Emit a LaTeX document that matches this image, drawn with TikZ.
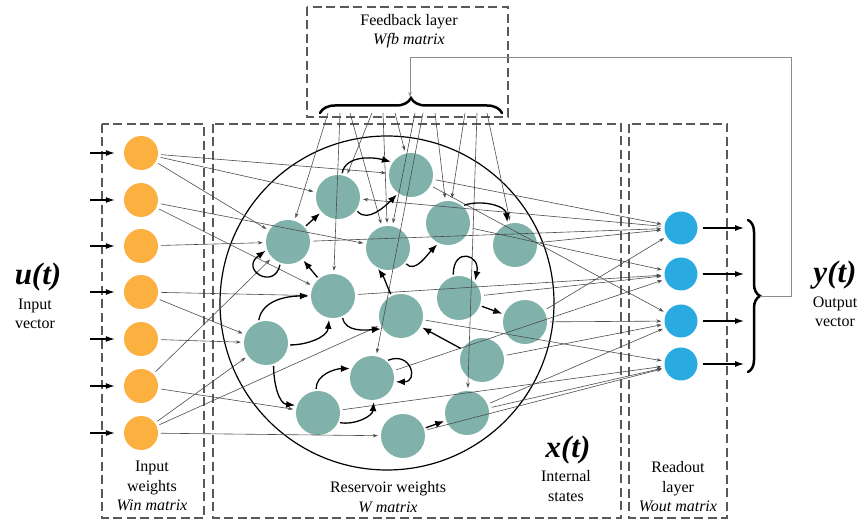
\documentclass[tikz,border=0pt]{standalone}
\usepackage{fontspec}
\setmainfont{Liberation Serif}
\usetikzlibrary{arrows.meta,decorations.pathreplacing}
\definecolor{inorange}{HTML}{FBB040}
\definecolor{resteal}{HTML}{80B2AB}
\definecolor{outblue}{HTML}{29ABE2}

\begin{document}
\begin{tikzpicture}[x=1pt,y=1pt,font=\fontsize{16}{19.5}\selectfont,
        inneuron/.style={circle,fill=inorange,minimum size=34pt,inner sep=0pt},
        resneuron/.style={circle,fill=resteal,minimum size=44pt,inner sep=0pt},
        outneuron/.style={circle,fill=outblue,minimum size=33pt,inner sep=0pt},
        layerbox/.style={draw=black!65,line width=1.1pt,dash pattern=on 9pt off 4.5pt},
        wire/.style={draw=black!70,line width=0.6pt,-{Stealth[length=5pt,width=3.5pt]},shorten <=3pt,shorten >=3pt},
        loopy/.style={line width=1.3pt,-{Latex[length=9pt,width=7pt]},shorten <=2pt,shorten >=2pt},
        signal/.style={line width=1.2pt,-{Latex[length=9pt,width=6pt]}},
        bigbrace/.style={line width=2.5pt,line cap=round,decorate,decoration={brace,amplitude=#1}},
        bigvar/.style={font=\fontsize{31}{33}\selectfont\bfseries\itshape},
        caption/.style={align=center}]
        \useasboundingbox (0,0) rectangle (860,-521);
        %% layer boxes
        \draw[layerbox] (102,-124) rectangle (204,-518);
        \draw[layerbox] (213,-124) rectangle (621,-518);
        \draw[layerbox] (629,-124) rectangle (727,-518);
        \draw[layerbox] (307,-7) rectangle (508,-117);
        %% reservoir
        \draw[line width=1.2pt] (387,-303) circle (167);
        %% neurons
        \foreach \y [count=\i] in {153,200,246,292,339,386,433}
            \node[inneuron] (I\i) at (141,-\y) {};
        \foreach \x/\y [count=\i] in {338/197,411/175,288/242,388/248,333/296,401/316,448/223,515/245,
                                      459/298,525/322,266/343,372/378,318/413,403/436,482/360,467/413}
            \node[resneuron] (R\i) at (\x,-\y) {};
        \foreach \y [count=\i] in {228,274,321,364}
            \node[outneuron] (O\i) at (681,-\y) {};
        %% input and output signals
        \foreach \i in {1,...,7} {
            \path (I\i.center) ++(-51,0) coordinate (U\i);
            \draw[signal,shorten >=9pt] (U\i) -- (I\i);
        }
        \foreach \i in {1,...,4} {
            \path (O\i.center) ++(63,0) coordinate (Y\i);
            \draw[signal,shorten <=5pt] (O\i) -- (Y\i);
        }
        %% input weights
        \foreach \a/\b in {I1/R2,I1/R1,I1/R3,I2/R4,I2/R5,I3/R3,I4/R5,I4/R11,I5/R11,I6/R3,I6/R13,I7/R11,I7/R6,I7/R14}
            \draw[wire] (\a) -- (\b);
        %% feedback weights
        \foreach \x/\b [count=\i] in {328/R3,340/R5,350/R4,372/R1,383/R4,395/R2,415/R4,423/R12,435/R7,465/R7,477/R16,487/R8} {
            \coordinate (F\i) at (\x,-113);
            \draw[wire,shorten <=0pt] (F\i) -- (\b);
        }
        %% readout weights
        \foreach \a/\b in {R2/O1,R3/O1,R8/O1,R10/O1,R7/O2,R5/O2,R9/O2,R12/O2,R2/O3,R10/O3,R15/O3,R16/O3,R6/O4,R13/O4,R14/O4,R16/O4}
            \draw[wire] (\a) -- (\b);
        \draw[wire] (O1) -- (R1);
        %% reservoir connections
        \draw[loopy] (R3) -- (R1);
        \draw[loopy] (R1.80) to[out=80,in=165] (R2.145);
        \draw[loopy] (R1.-35) to[out=-50,in=225] (R2.235);
        \draw[loopy] (R3.250) .. controls +(-6,-28) and +(-28,-20) .. (R3.200);
        \draw[loopy] (R5) -- (R3);
        \draw[loopy] (R11.110) to[out=80,in=180] (R5.180);
        \draw[loopy] (R11.-5) to[out=0,in=265] (R5.260);
        \draw[loopy] (R6.115) to[out=115,in=-55] (R4.240);
        \draw[loopy] (R4.-40) to[out=-50,in=225] (R7.245);
        \draw[loopy] (R7.50) to[out=20,in=95] (R8.110);
        \draw[loopy] (R9.105) .. controls +(0,30) and +(6,28) .. (R9.45);
        \draw[loopy] (R9) -- (R10);
        \draw[loopy] (R5.-65) to[out=-80,in=185] (R6.215);
        \draw[loopy] (R11.-70) to[out=-90,in=175] (R13.160);
        \draw[loopy] (R13.95) to[out=90,in=180] (R12.155);
        \draw[loopy] (R13.-25) to[out=-10,in=265] (R12.275);
        \draw[loopy] (R12.50) .. controls +(25,10) and +(25,0) .. (R12.-10);
        \draw[loopy] (R15) -- (R6);
        \draw[loopy] (R14) -- (R16);
        %% braces and feedback path
        \coordinate (BL) at (320,-113);
        \coordinate (BR) at (502,-113);
        \draw[bigbrace=15pt] (BL) -- (BR);
        \coordinate (BT) at (748,-220);
        \coordinate (BB) at (748,-372);
        \draw[bigbrace=12pt] (BT) -- (BB);
        \coordinate (YTIP) at (760,-296);
        \coordinate (FTIP) at (410,-97);
        \draw[black!45,line width=0.8pt,-{Stealth[length=5pt,width=3.5pt]}] (YTIP) -| (791,-57) -| (FTIP);
        %% labels
        \node[caption] (fblabel) at (409,-31) {Feedback layer\\\textit{Wfb matrix}};
        \node[bigvar] (uvar) at (38,-277) {u(t)};
        \node[caption] (ulabel) at (35,-314) {Input\\vector};
        \node[caption] (inlabel) at (152,-486) {Input\\weights\\\textit{Win matrix}};
        \node[caption] (reslabel) at (388,-497) {Reservoir weights\\\textit{W matrix}};
        \node[bigvar] (xvar) at (568,-450) {x(t)};
        \node[caption] (xlabel) at (566,-486) {Internal\\states};
        \node[caption] (outlabel) at (678,-487) {Readout\\layer\\\textit{Wout matrix}};
        \node[bigvar] (yvar) at (835,-275) {y(t)};
        \node[caption] (ylabel) at (835,-312) {Output\\vector};
\end{tikzpicture}
\end{document}
